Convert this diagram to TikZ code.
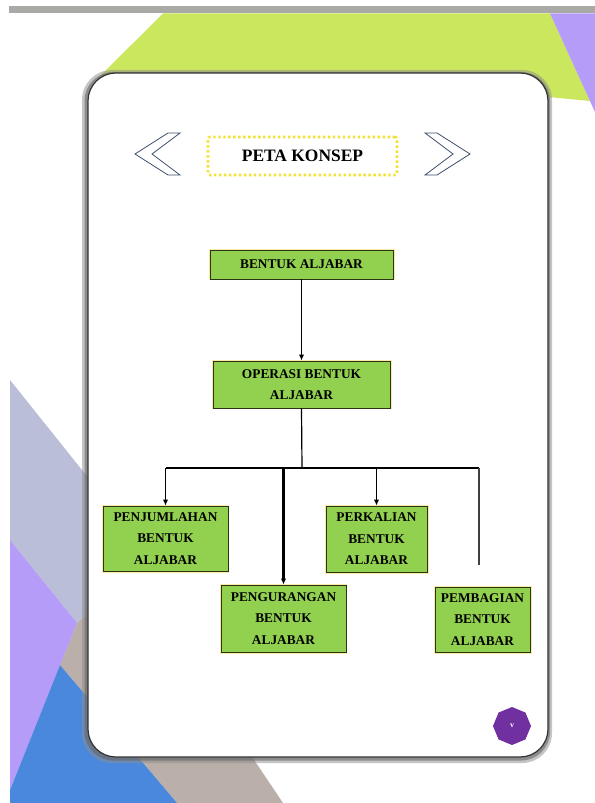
\documentclass[tikz,border=0pt]{standalone}
\usepackage{fontspec}
\setmainfont{Liberation Serif}
\usetikzlibrary{arrows.meta,shapes.geometric}
\definecolor{bargray}{HTML}{A9A9A6}
\definecolor{limebg}{HTML}{CBE75E}
\definecolor{lilac}{HTML}{B49CF8}
\definecolor{slategray}{HTML}{BABED8}
\definecolor{bluebg}{HTML}{4A88DD}
\definecolor{tanbg}{HTML}{BBAFAA}
\definecolor{nodegreen}{HTML}{92D050}
\definecolor{nodeborder}{HTML}{2A3414}
\definecolor{glow}{HTML}{FBE9A8}
\definecolor{dotyellow}{HTML}{F3E232}
\definecolor{chevron}{HTML}{3E4D68}
\definecolor{octpurple}{HTML}{7030A0}
\tikzset{
  conceptbox/.style={draw=nodeborder, line width=0.9pt, fill=nodegreen,
    preaction={draw=glow, line width=3pt},
    align=center, inner sep=0pt,
    font=\fontsize{13.4}{21.5}\selectfont\bfseries},
  link/.style={draw=black, line width=1.2pt},
  arrowlink/.style={link, -{Latex[length=6pt,width=5.5pt]}},
  chevshape/.style={draw=chevron, line width=0.8pt, fill=white, line join=miter}
}
\begin{document}
\begin{tikzpicture}[x=1bp,y=-1bp]
\useasboundingbox (0,0) rectangle (595,803);
\fill[white] (0,0) rectangle (595,803);
% background shapes
\fill[limebg] (163,13.5) -- (550,13.5) -- (590,101) -- (548,97) -- (100,76) -- cycle;
\fill[lilac] (550,13.5) -- (595,13.5) -- (595,112) -- cycle;
\fill[bargray] (9,6.5) rectangle (595,13.5);
\fill[slategray] (10,380) -- (150,555) -- (77,623) -- (10,540) -- cycle;
\fill[tanbg] (77,623) -- (130,575) -- (283,803) -- (177,803) -- (60,665) -- cycle;
\fill[lilac] (10,540) -- (77,623) -- (10,790) -- cycle;
\fill[bluebg] (60,665) -- (177,803) -- (10,803) -- (10,790) -- cycle;
% card
\fill[black!45, opacity=0.5, rounded corners=30pt] (82,70) rectangle (552,763);
\fill[black!60, opacity=0.6, rounded corners=29pt] (84.5,72) rectangle (550,760.5);
\filldraw[fill=white, draw=black!80, line width=1.2pt, rounded corners=28pt] (88,73) rectangle (548,757);
% header
\node[draw=dotyellow, line width=2.6pt, dash pattern=on 2.4pt off 2.6pt, fill=white,
  rounded corners=2pt, minimum width=189bp, minimum height=38bp,
  font=\fontsize{17.5}{19}\selectfont\bfseries] (title) at (302.5,156) {PETA KONSEP};
\draw[chevshape] (135,154) -- (168,133) -- (180,133) -- (152,154) -- (180,175) -- (168,175) -- cycle;
\draw[chevshape] (470,154) -- (437,133) -- (425,133) -- (453,154) -- (425,175) -- (437,175) -- cycle;
% concept nodes
\node[conceptbox, minimum width=183bp, minimum height=29bp] (bentuk) at (301.5,264.5) {BENTUK ALJABAR};
\node[conceptbox, minimum width=177bp, minimum height=47bp] (operasi) at (301.5,384.5) {OPERASI BENTUK\\ALJABAR};
\node[conceptbox, minimum width=125bp, minimum height=65bp] (penj) at (165.5,538.5) {PENJUMLAHAN\\BENTUK\\ALJABAR};
\node[conceptbox, minimum width=101bp, minimum height=66bp] (perk) at (376.5,539) {PERKALIAN\\BENTUK\\ALJABAR};
\node[conceptbox, minimum width=125bp, minimum height=67bp] (peng) at (283.5,618.5) {PENGURANGAN\\BENTUK\\ALJABAR};
\node[conceptbox, minimum width=95bp, minimum height=65bp] (pemb) at (482.5,619.5) {PEMBAGIAN\\BENTUK\\ALJABAR};
% connectors
\coordinate (hub) at (302,468);
\coordinate (hleft) at (165.5,468);
\coordinate (hright) at (479,468);
\coordinate (pembend) at (479,565);
\draw[arrowlink] (bentuk.south) -- (operasi.north);
\draw[link] (operasi.south) -- (hub);
\draw[link] (hleft) -- (hright);
\draw[arrowlink, line width=1.7pt] (hleft) -- (penj.north);
\draw[arrowlink, line width=2.2pt] (peng.north |- hub) -- (peng.north);
\draw[arrowlink, line width=1.7pt] (perk.north |- hub) -- (perk.north);
\draw[draw=black!75, line width=1.1pt] (hright) -- (pembend);
% page badge
\node[regular polygon, regular polygon sides=8, shape border rotate=22.5, fill=octpurple,
  minimum size=38bp, inner sep=0pt, text=white, font=\fontsize{8}{8}\selectfont\bfseries] (badge) at (512,726) {v};
\end{tikzpicture}
\end{document}
